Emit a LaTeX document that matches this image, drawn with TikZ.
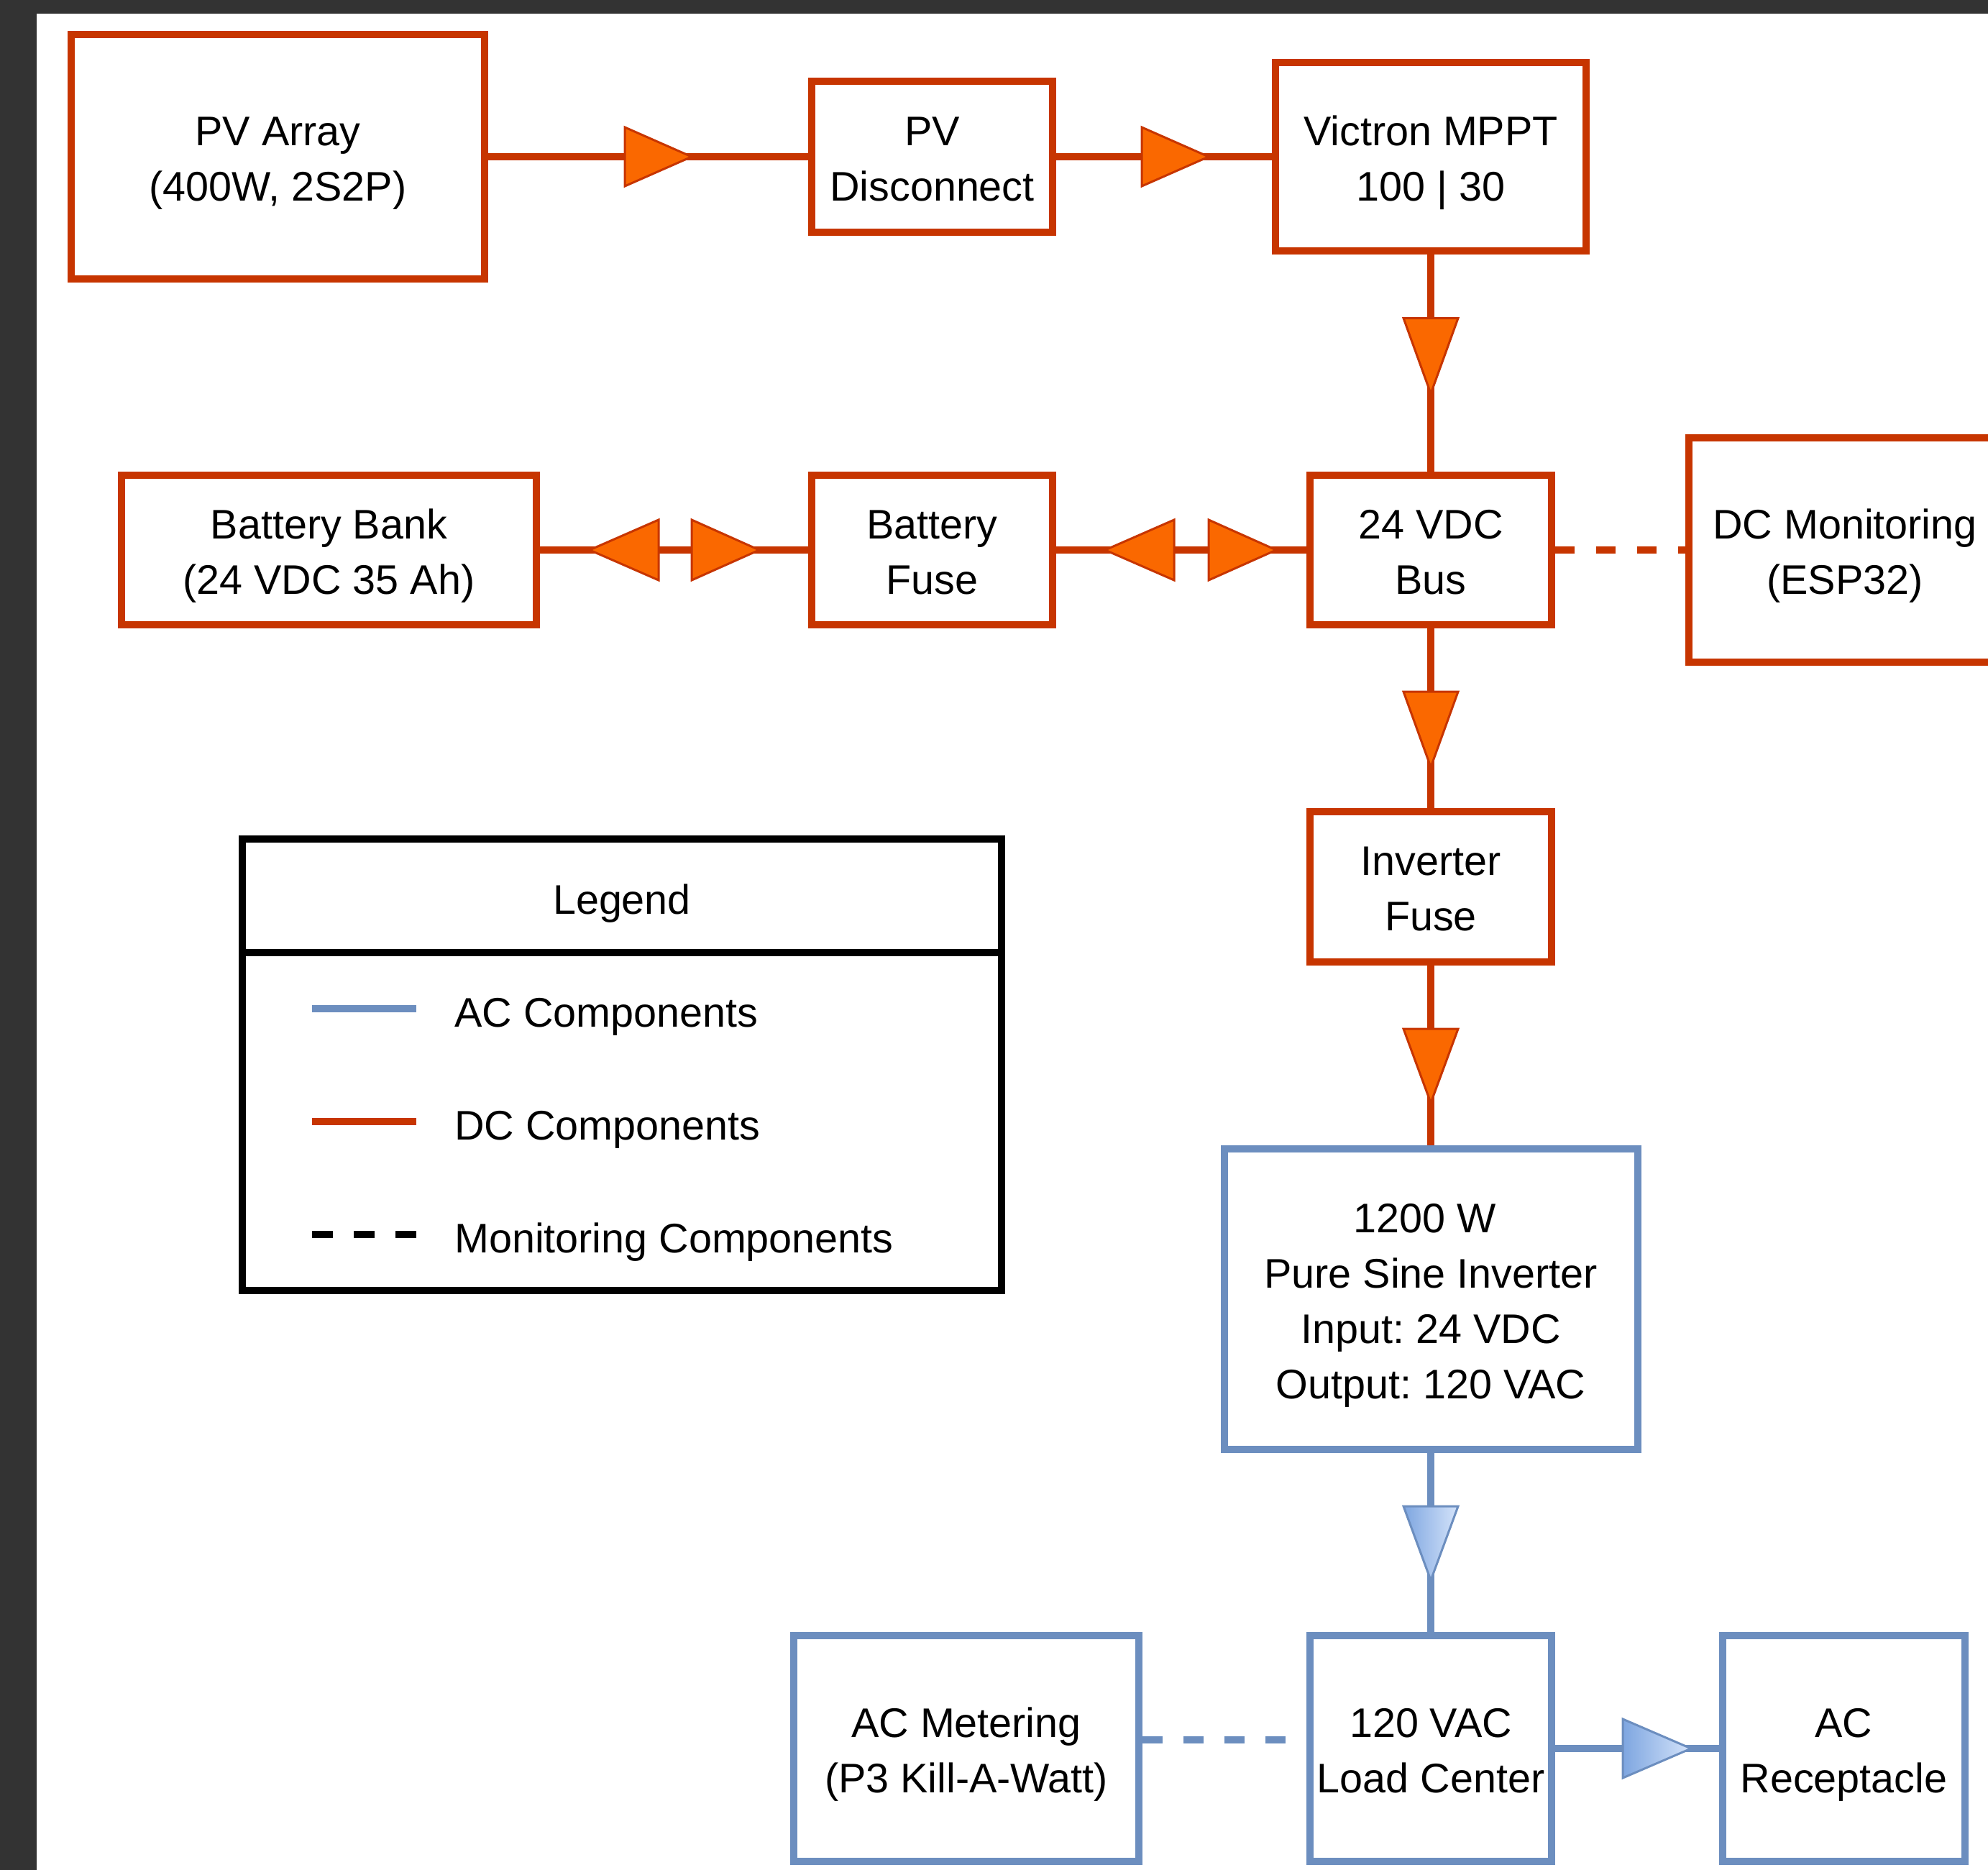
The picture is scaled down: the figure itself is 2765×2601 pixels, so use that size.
\documentclass[tikz,border=0pt]{standalone}
\usepackage{fontspec}
\setmainfont{Liberation Sans}
\usetikzlibrary{decorations.markings}
\definecolor{dcline}{HTML}{C73500}
\definecolor{dcfill}{HTML}{FA6800}
\definecolor{acline}{HTML}{6C8EBF}
\definecolor{acdark}{HTML}{7EA6E0}
\definecolor{aclight}{HTML}{D4E3FA}
\definecolor{framegray}{HTML}{333333}
\frenchspacing
\newcommand\tstr{\rule{0pt}{61pt}}
\newcommand\bstr{\rule[-16pt]{0pt}{16pt}}
\begin{document}
\begin{tikzpicture}[x=1pt,y=-1pt,
  box/.style={draw, rectangle, line width=10pt, fill=white, inner sep=0pt, align=center,
    font=\fontsize{57.5}{77}\selectfont\frenchspacing, text=black},
  dcbox/.style={box, draw=dcline},
  acbox/.style={box, draw=acline},
  dcw/.style={draw=dcline, line width=10pt},
  acw/.style={draw=acline, line width=10pt},
  dctri/.style={fill=dcfill, draw=dcline, line width=3pt, line join=miter},
  actri/.style={left color=acdark, right color=aclight, draw=acline, line width=3pt, line join=miter},
  dcarrow/.style n args={3}{dcw, postaction={decorate, decoration={markings,
    mark=at position #1 with {\draw[dctri] (0,0) -- (-#2,#3) -- (-#2,-#3) -- cycle;}}}},
  acarrow/.style n args={3}{acw, postaction={decorate, decoration={markings,
    mark=at position #1 with {\draw[actri] (0,0) -- (-#2,#3) -- (-#2,-#3) -- cycle;}}}},
  dcbi/.style n args={2}{dcw, postaction={decorate, decoration={markings,
    mark=at position #1 with {\draw[dctri] (0,0) -- (96,42) -- (96,-42) -- cycle;},
    mark=at position #2 with {\draw[dctri] (0,0) -- (-94,42) -- (-94,-42) -- cycle;}}}},
  legtxt/.style={font=\fontsize{57.5}{77}\selectfont\frenchspacing, inner sep=0pt, anchor=base west, text=black},
]
\useasboundingbox (0,0) rectangle (2765,2601);
\fill[framegray] (0,0) rectangle (2765,2601);
\fill[white] (51,19) rectangle (2765,2601);

% DC boxes
\node[dcbox, minimum width=575pt, minimum height=340pt] (pv) at (386.5,218) {\tstr PV Array\\(400W, 2S2P)\bstr};
\node[dcbox, minimum width=335pt, minimum height=210pt] (disc) at (1296.5,218) {\tstr PV\\Disconnect\bstr};
\node[dcbox, minimum width=432pt, minimum height=261pt] (mppt) at (1990,218) {\tstr Victron MPPT\\100 | 30\bstr};
\node[dcbox, minimum width=577pt, minimum height=208pt] (bank) at (457.5,765) {\tstr Battery Bank\\(24 VDC 35 Ah)\bstr};
\node[dcbox, minimum width=335pt, minimum height=208pt] (bfuse) at (1296.5,765) {\tstr Battery\\Fuse\bstr};
\node[dcbox, minimum width=336pt, minimum height=208pt] (bus) at (1990,765) {\tstr 24 VDC\\Bus\bstr};
\node[dcbox, minimum width=434pt, minimum height=312pt] (dcmon) at (2566,765) {\tstr DC Monitoring\\(ESP32)\bstr};
\node[dcbox, minimum width=336pt, minimum height=209pt] (ifuse) at (1990,1233.5) {\tstr Inverter\\Fuse\bstr};

% AC boxes
\node[acbox, minimum width=575pt, minimum height=418pt] (inv) at (1990,1807) {\tstr 1200 W\hspace*{16pt}\\Pure Sine Inverter\\Input: 24 VDC\\Output: 120 VAC\bstr};
\node[acbox, minimum width=480pt, minimum height=314pt] (acm) at (1344,2432) {\tstr AC Metering\\(P3 Kill-A-Watt)\bstr};
\node[acbox, minimum width=336pt, minimum height=314pt] (load) at (1990,2432) {\tstr 120 VAC\\Load Center\bstr};
\node[acbox, minimum width=337pt, minimum height=314pt] (rec) at (2564.5,2432) {\tstr AC\\Receptacle\bstr};

% connectors
\draw[dcarrow={283pt}{93}{41}] (pv) -- (disc);
\draw[dcarrow={212pt}{93}{41}] (disc) -- (mppt);
\draw[dcarrow={194pt}{105}{38}] (mppt) -- (bus);
\draw[dcarrow={193pt}{105}{38}] (bus) -- (ifuse);
\draw[dcarrow={191pt}{103}{38}] (ifuse) -- (inv);
\draw[acarrow={177pt}{103}{38}] (inv) -- (load);
\draw[acarrow={189pt}{95}{41}] (load) -- (rec);
\draw[dcbi={69pt}{305pt}] (bank) -- (bfuse);
\draw[dcbi={68pt}{306pt}] (bfuse) -- (bus);
\draw[dcw, dash pattern=on 27pt off 30pt] (bus) -- (dcmon);
\draw[acw, dash pattern=on 28pt off 29pt] ([yshift=12pt]acm.east) -- ([yshift=12pt]load.west);

% legend
\node[draw=black, line width=10pt, minimum width=1056pt, minimum height=628pt, inner sep=0pt] (leg) at (865,1481) {};
\coordinate (hdr) at (865,1325);
\draw[line width=10pt, black] (hdr -| leg.west) -- (hdr -| leg.east);
\node[font=\fontsize{57.5}{77}\selectfont, inner sep=0pt, anchor=base] (legt) at (865,1271) {Legend};
\coordinate (l1a) at (434,1403); \coordinate (l1b) at (579,1403);
\coordinate (l2a) at (434,1560); \coordinate (l2b) at (579,1560);
\coordinate (l3a) at (434,1717); \coordinate (l3b) at (579,1717);
\draw[acw] (l1a) -- (l1b);
\draw[dcw] (l2a) -- (l2b);
\draw[black, line width=10pt, dash pattern=on 29pt off 29pt] (l3a) -- (l3b);
\node[legtxt] (t1) at (632,1428) {AC Components};
\node[legtxt] (t2) at (632,1585) {DC Components};
\node[legtxt] (t3) at (632,1742) {Monitoring Components};
\end{tikzpicture}
\end{document}
